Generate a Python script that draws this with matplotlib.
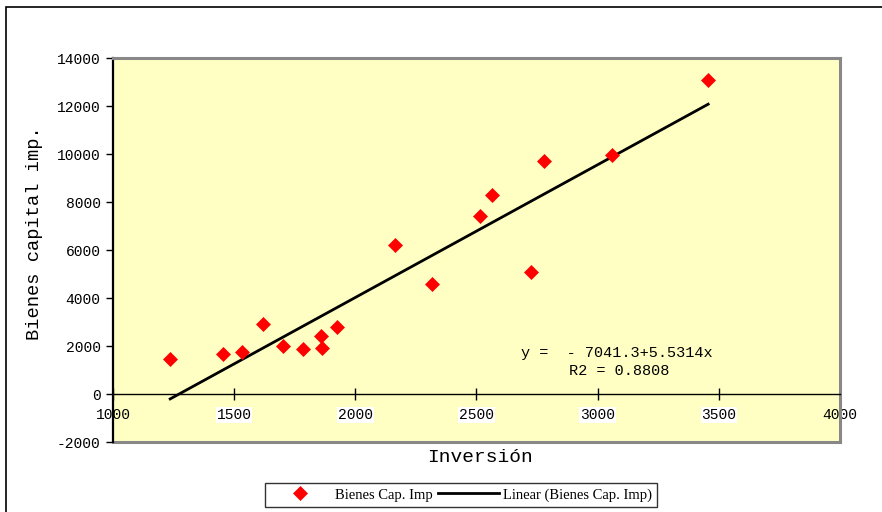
import matplotlib
matplotlib.use("Agg")
import matplotlib.pyplot as plt
from matplotlib.patches import Rectangle
from matplotlib.lines import Line2D
import numpy as np

# Data
inversion = [1236, 1455, 1533, 1621, 1702, 1783, 1857, 1864, 1926, 2165,
             2317, 2513, 2562, 2724, 2777, 3060, 3456]
bienes = [1458, 1653, 1764, 2931, 2014, 1861, 2417, 1931, 2806, 6208,
          4566, 7431, 8292, 5083, 9722, 9972, 13083]
intercept = -7041.3
slope = 5.5314
r2 = 0.8808

xticks = [1000, 1500, 2000, 2500, 3000, 3500, 4000]
yticks = [-2000, 0, 2000, 4000, 6000, 8000, 10000, 12000, 14000]

W, H = 882, 512
fig = plt.figure(figsize=(W / 100, H / 100), dpi=100)
fig.patch.set_facecolor("white")

# outer chart frame
fig.add_artist(Rectangle((6 / W, -0.1), 1.2, 1 - 7 / H + 0.1, transform=fig.transFigure,
                         fill=False, edgecolor="black", linewidth=1.2))

ax = fig.add_axes([113 / W, 1 - 442 / H, 727 / W, 384 / H])
ax.set_facecolor("#FFFFC4")
ax.set_xlim(1000, 4000)
ax.set_ylim(-2000, 14000)

mono = "Liberation Mono"

# scatter
ax.plot(inversion, bienes, linestyle="none", marker="D", color="#FF0000",
        markersize=7.5, markeredgewidth=0.5, zorder=4, label="Bienes Cap. Imp")

# trend line
xl = np.array([min(inversion), max(inversion)])
ax.plot(xl, intercept + slope * xl, color="black", linewidth=2, zorder=3,
        label="Linear (Bienes Cap. Imp)")

# spines
ax.spines["bottom"].set_position(("data", 0))
ax.spines["bottom"].set_color("black")
ax.spines["bottom"].set_linewidth(1.0)
ax.spines["left"].set_color("black")
ax.spines["left"].set_linewidth(1.6)
for s in ("top", "right"):
    ax.spines[s].set_color("#888888")
    ax.spines[s].set_linewidth(2.2)
ax.add_line(Line2D([0, 1], [0, 0], transform=ax.transAxes, color="#888888",
                   linewidth=2.2, clip_on=False, zorder=2))

ax.set_xticks(xticks)
ax.set_xticklabels([str(t) for t in xticks], fontfamily=mono, fontsize=10.5)
ax.set_yticks(yticks)
ax.set_yticklabels([str(t) for t in yticks], fontfamily=mono, fontsize=10.5)
ax.tick_params(axis="x", direction="inout", length=8, width=1, pad=6, colors="black")
ax.tick_params(axis="y", direction="out", length=5, width=1, pad=4, colors="black")
for lab in ax.get_xticklabels()[1:-1]:
    lab.set_bbox(dict(facecolor="white", edgecolor="none", pad=0.5))

fig.text(35 / W, 1 - 233 / H, "Bienes capital imp.", rotation=90, fontfamily=mono,
         fontsize=13.5, ha="center", va="center")
fig.text(480 / W, 1 - 458 / H, "Inversión", fontfamily=mono, fontsize=14,
         ha="center", va="center")

ax.text(2683, 1700, "y =  - %.1f+%.4fx" % (-intercept, slope), fontfamily=mono,
        fontsize=11, ha="left", va="center")
ax.text(2880, 960, "R2 = %.4f" % r2, fontfamily=mono, fontsize=11,
        ha="left", va="center")

leg = fig.legend(loc="center", bbox_to_anchor=(461 / W, 1 - 495 / H), ncol=2,
                 prop={"family": "Liberation Serif", "size": 10.5},
                 frameon=True, fancybox=False, edgecolor="black",
                 handlelength=4.2, columnspacing=0.3, handletextpad=0.3,
                 borderpad=0.35, markerscale=1.0)
leg.get_frame().set_linewidth(1.0)

fig.savefig("out.png", dpi=100, facecolor="white")
